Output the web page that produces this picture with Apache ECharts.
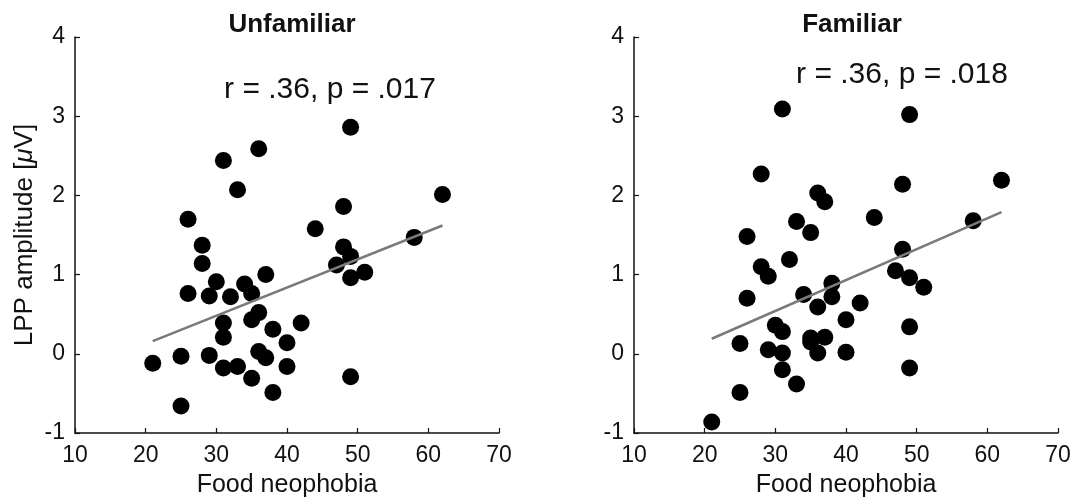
<!DOCTYPE html>
<html>
<head>
<meta charset="utf-8">
<script src="https://cdn.jsdelivr.net/npm/echarts@6/dist/echarts.min.js"></script>
<style>
  html, body { margin: 0; padding: 0; background: #fff; }
  #chart { width: 1074px; height: 503px; }
</style>
</head>
<body>
<div id="chart"></div>
<script>
// food neophobia score per subject, same for both panels
const neophobia = [21, 25, 25, 26, 26, 28, 28, 29, 29, 30, 31, 31, 31, 31, 32, 33, 33, 34, 35, 35, 35,
  36, 36, 36, 37, 37, 38, 38, 40, 40, 42, 44, 47, 48, 48, 49, 49, 49, 49, 51, 58, 62]

// LPP amplitude, unfamiliar foods
const unfamiliarLpp = [-0.12, -0.66, -0.03, 1.70, 0.76, 1.37, 1.14, 0.73, -0.02, 0.91, 2.44, 0.39, 0.21, -0.18,
  0.72, 2.07, -0.16, 0.88, 0.76, 0.43, -0.31, 2.59, 0.52, 0.03, 1.00, -0.05, 0.31, -0.49, 0.14, -0.16,
  0.39, 1.58, 1.12, 1.86, 1.35, 2.86, 1.23, 0.96, -0.29, 1.03, 1.47, 2.01]

// LPP amplitude, familiar foods
const familiarLpp = [-0.86, -0.49, 0.13, 1.48, 0.70, 2.27, 1.10, 0.98, 0.05, 0.36, 3.09, 0.28, 0.01, -0.20,
  1.19, 1.67, -0.38, 0.75, 1.53, 0.20, 0.15, 2.03, 0.59, 0.01, 1.92, 0.21, 0.89, 0.72, 0.43, 0.02,
  0.64, 1.72, 1.05, 2.14, 1.32, 3.02, 0.96, 0.34, -0.18, 0.84, 1.68, 2.19]

// fitted line end points
const unfamiliarFit = [[21, 0.16], [62, 1.62]]
const familiarFit = [[21, 0.19], [62, 1.79]]

const panelTitles = ['Unfamiliar', 'Familiar']
const statTexts = ['r = .36, p = .017', 'r = .36, p = .018']

const FONT = '"Liberation Sans", Arial, Helvetica, sans-serif'
const ink = '#111'

const chart = echarts.init(document.getElementById('chart'), null, { renderer: 'canvas' })

function pairs(xs, ys) {
  return xs.map((x, i) => [x, ys[i]])
}

function xAxisFor(idx) {
  return {
    gridIndex: idx,
    type: 'value',
    min: 10,
    max: 70,
    interval: 10,
    name: 'Food neophobia',
    nameLocation: 'middle',
    nameGap: 40,
    nameTextStyle: { fontFamily: FONT, fontSize: 25, color: ink },
    axisLine: { onZero: false, lineStyle: { color: ink, width: 1.5 } },
    axisTick: { inside: true, length: 5, lineStyle: { color: ink, width: 1.2 } },
    axisLabel: { fontFamily: FONT, fontSize: 23, color: ink, margin: 11 },
    splitLine: { show: false }
  }
}

function yAxisFor(idx, withName) {
  return {
    gridIndex: idx,
    type: 'value',
    min: -1,
    max: 4,
    interval: 1,
    name: withName ? 'LPP amplitude [{it|μ}V]' : '',
    nameLocation: 'middle',
    nameGap: 37,
    nameTextStyle: {
      fontFamily: FONT, fontSize: 26, color: ink,
      rich: { it: { fontFamily: FONT, fontSize: 26, fontStyle: 'italic', color: ink } }
    },
    axisLine: { onZero: false, lineStyle: { color: ink, width: 1.5 } },
    axisTick: { inside: true, length: 5, lineStyle: { color: ink, width: 1.2 } },
    axisLabel: { fontFamily: FONT, fontSize: 23, color: ink, margin: 10 },
    splitLine: { show: false }
  }
}

function scatterSeries(idx, ys) {
  return {
    type: 'scatter',
    xAxisIndex: idx,
    yAxisIndex: idx,
    data: pairs(neophobia, ys),
    symbol: 'circle',
    symbolSize: 17,
    itemStyle: { color: '#000', opacity: 1 },
    z: 2
  }
}

function fitSeries(idx, pts) {
  return {
    type: 'line',
    xAxisIndex: idx,
    yAxisIndex: idx,
    data: pts,
    showSymbol: false,
    symbol: 'none',
    lineStyle: { color: '#7a7a7a', width: 2.5 },
    z: 3
  }
}

const option = {
  animation: false,
  backgroundColor: '#fff',
  title: [
    { text: panelTitles[0], left: 287, top: 7, textAlign: 'center',
      textStyle: { fontFamily: FONT, fontSize: 26, fontWeight: 'bold', color: ink } },
    { text: panelTitles[1], left: 847, top: 7, textAlign: 'center',
      textStyle: { fontFamily: FONT, fontSize: 26, fontWeight: 'bold', color: ink } },
    { text: statTexts[0], left: 325, top: 70, textAlign: 'center',
      textStyle: { fontFamily: FONT, fontSize: 30, fontWeight: 'normal', color: ink } },
    { text: statTexts[1], left: 897, top: 55, textAlign: 'center',
      textStyle: { fontFamily: FONT, fontSize: 30, fontWeight: 'normal', color: ink } }
  ],
  grid: [
    { left: 75, right: 575, top: 37, bottom: 67 },
    { left: 634, right: 16, top: 37, bottom: 67 }
  ],
  xAxis: [xAxisFor(0), xAxisFor(1)],
  yAxis: [yAxisFor(0, true), yAxisFor(1, false)],
  series: [
    scatterSeries(0, unfamiliarLpp),
    fitSeries(0, unfamiliarFit),
    scatterSeries(1, familiarLpp),
    fitSeries(1, familiarFit)
  ]
}

chart.setOption(option)
</script>
</body>
</html>
